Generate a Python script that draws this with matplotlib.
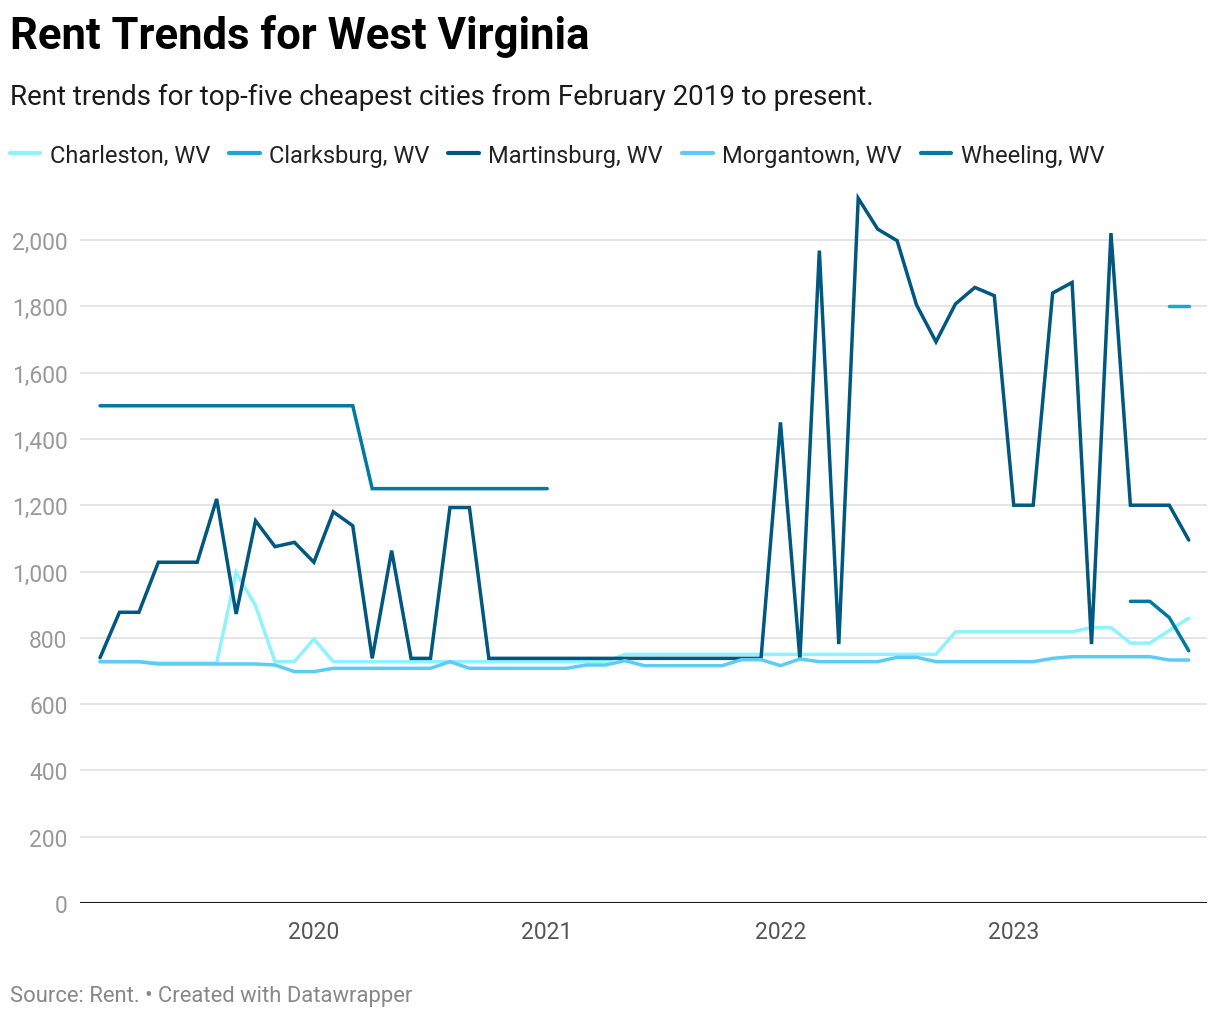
import numpy as np
import matplotlib.pyplot as plt
from matplotlib.lines import Line2D
from matplotlib.ticker import FuncFormatter

plt.rcParams['font.family'] = ['Roboto', 'DejaVu Sans']

# monthly, Feb 2019 .. Oct 2023 (57 months)
months = [f"{y}-{m:02d}" for y in range(2019, 2024) for m in range(1, 13)][1:58]

charleston = [728, 728, 728, 724, 724, 724, 724, 997, 897, 728, 728, 796, 728,
              728, 728, 728, 728, 728, 728, 728, 728, 728, 728, 728, 728, 728, 728,
              750, 750, 750, 750, 750, 750, 750, 750, 750, 750, 750, 750, 750, 750,
              750, 750, 750, 818, 818, 818, 818, 818, 818, 818, 831, 831, 784, 784,
              822, 859]

clarksburg = [None] * 55 + [1800, 1800]

martinsburg = [740, 877, 877, 1028, 1028, 1028, 1219, 872, 1153, 1075, 1088, 1028,
               1180, 1138, 738, 1063, 738, 738, 1193, 1193, 738, 738, 738, 738, 738,
               738, 738, 738, 738, 738, 738, 738, 738, 738, 738, 1450, 736, 1968,
               781, 2126, 2033, 1998, 1804, 1693, 1807, 1857, 1832, 1200, 1200, 1840,
               1872, 781, 2021, 1200, 1200, 1200, 1095]

morgantown = [728, 728, 728, 721, 721, 721, 721, 721, 721, 718, 698, 698, 708, 708,
              708, 708, 708, 708, 728, 708, 708, 708, 708, 708, 708, 718, 718, 731,
              716, 716, 716, 716, 716, 734, 734, 716, 736, 728, 728, 728, 728, 741,
              741, 728, 728, 728, 728, 728, 728, 738, 743, 743, 743, 743, 743, 733, 733]

wheeling = [1500] * 14 + [1250] * 10 + [None] * 29 + [910, 910, 861, 761]

series = [
    ("Charleston, WV", charleston, "#8ff3fd"),
    ("Clarksburg, WV", clarksburg, "#1ba7d4"),
    ("Martinsburg, WV", martinsburg, "#00577f"),
    ("Morgantown, WV", morgantown, "#5ccbf6"),
    ("Wheeling, WV", wheeling, "#0079a3"),
]

year_labels = ["2020", "2021", "2022", "2023"]
y_ticks = [0, 200, 400, 600, 800, 1000, 1200, 1400, 1600, 1800, 2000]

fig = plt.figure(figsize=(12.2, 10.2), dpi=100)
ax = fig.add_axes([80 / 1220, 1 - 904 / 1020, 1127 / 1220, (904 - 191.3) / 1020])

x = np.arange(len(months))
draw_order = [4, 1, 0, 3, 2]
for i in draw_order:
    name, vals, color = series[i]
    y = np.array([np.nan if v is None else v for v in vals], dtype=float)
    ax.plot(x, y, color=color, lw=2.5, solid_capstyle='round',
            solid_joinstyle='miter', zorder=3 + i)

ax.set_ylim(0, 2150)
ax.set_xlim(-1.03, 56.94)
ax.set_yticks(y_ticks)
ax.yaxis.set_major_formatter(FuncFormatter(lambda v, p: f"{int(v):,}"))
ax.grid(axis='y', color='#e3e3e3', lw=1.3, zorder=0)
ax.axhline(0, color='#1a1a1a', lw=1.5, zorder=10)

year_pos = [months.index(f"{yl}-01") for yl in year_labels]
ax.set_xticks(year_pos)
ax.set_xticklabels(year_labels)

for s in ax.spines.values():
    s.set_visible(False)
ax.tick_params(axis='y', length=0, pad=9, labelsize=16.5, labelcolor='#999999')
ax.tick_params(axis='x', length=0, pad=12, labelsize=16.5, labelcolor='#555555')

fig.text(10 / 1220, 1 - 37 / 1020, "Rent Trends for West Virginia", fontsize=31.4,
         fontweight='bold', color='#000000', va='center', ha='left')
fig.text(10 / 1220, 1 - 97 / 1020,
         "Rent trends for top-five cheapest cities from February 2019 to present.",
         fontsize=20, color='#1a1a1a', va='center', ha='left')
fig.text(10 / 1220, 1 - 997 / 1020, "Source: Rent. \u2022 Created with Datawrapper",
         fontsize=15.8, color='#888888', va='center', ha='left')

handles = [Line2D([0], [0], color=c, lw=3, solid_capstyle='round') for _, _, c in series]
labels = [n for n, _, _ in series]
fig.legend(handles, labels, loc='center left', bbox_to_anchor=(6 / 1220, 1 - 156 / 1020),
           ncol=5, frameon=False, fontsize=17, handlelength=1.3, handletextpad=0.4,
           columnspacing=0.8, labelcolor='#222222', borderaxespad=0, borderpad=0.15)

fig.savefig("out.png", dpi=100)
